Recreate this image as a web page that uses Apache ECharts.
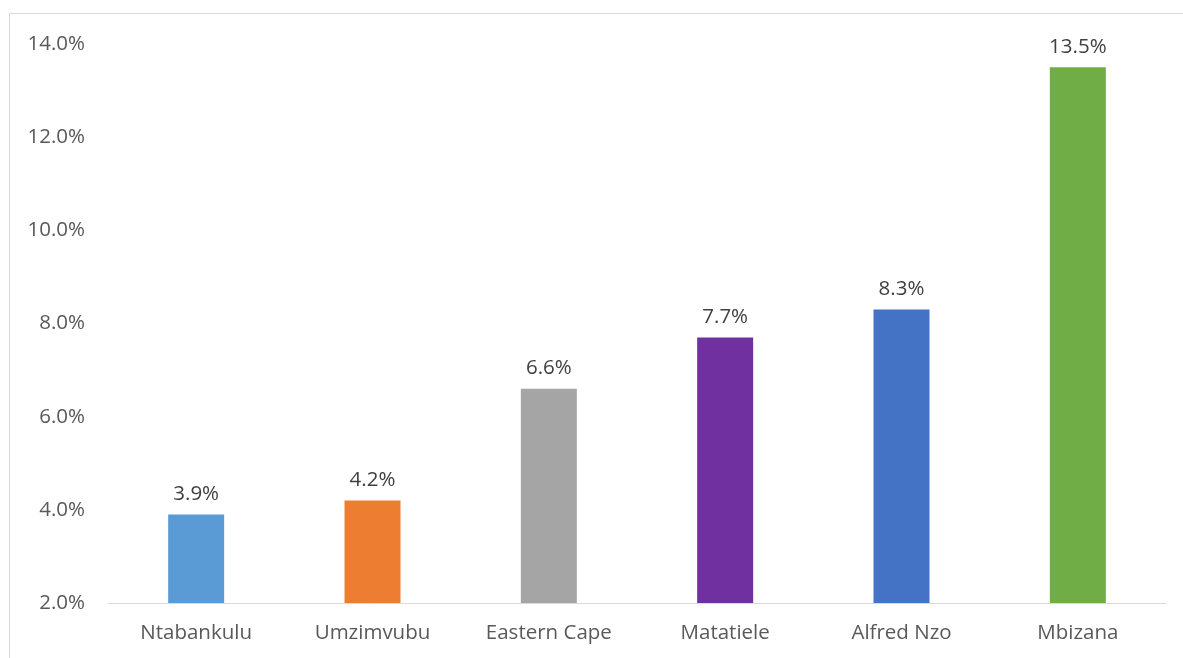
<!DOCTYPE html>
<html><head><meta charset="utf-8">
<script src="https://cdn.jsdelivr.net/npm/echarts@6/dist/echarts.min.js"></script>
<style>html,body{margin:0;padding:0;background:#fff}#c{width:1183px;height:658px}</style>
</head><body><div id="c"></div>
<script>
var categories = ['Ntabankulu','Umzimvubu','Eastern Cape','Matatiele','Alfred Nzo','Mbizana'];
var values = [3.9, 4.2, 6.6, 7.7, 8.3, 13.5];
var colors = ['#5B9BD5','#ED7D31','#A5A5A5','#7030A0','#4472C4','#70AD47'];
var yMin = 2, yMax = 14, yStep = 2;
var font = '"Open Sans", "Liberation Sans", sans-serif';
var chart = echarts.init(document.getElementById('c'), null, {renderer:'canvas'});
chart.setOption({
  animation:false,
  graphic:[{type:'rect', shape:{x:9.5,y:13.5,width:1200,height:700}, style:{fill:'none',stroke:'#d9d9d9',lineWidth:1}, z:-1}],
  grid:{left:108,right:17,top:44,bottom:55},
  xAxis:{type:'category',data:categories,
    axisLine:{lineStyle:{color:'#d9d9d9',width:1}},axisTick:{show:false},
    axisLabel:{color:'#595959',fontSize:20.5,fontFamily:font,margin:20}},
  yAxis:{type:'value',min:yMin,max:yMax,interval:yStep,
    splitLine:{show:false},axisLine:{show:false},axisTick:{show:false},
    axisLabel:{color:'#595959',fontSize:20.5,fontFamily:font,margin:23,formatter:function(v){return v.toFixed(1)+'%';}}},
  series:[{type:'bar',barWidth:56,
    data:values.map(function(v,i){return {value:v,itemStyle:{color:colors[i]}};}),
    label:{show:true,position:'top',distance:10,color:'#404040',fontSize:20.5,fontFamily:font,formatter:function(p){return p.value.toFixed(1)+'%';}}}]
});
</script></body></html>
